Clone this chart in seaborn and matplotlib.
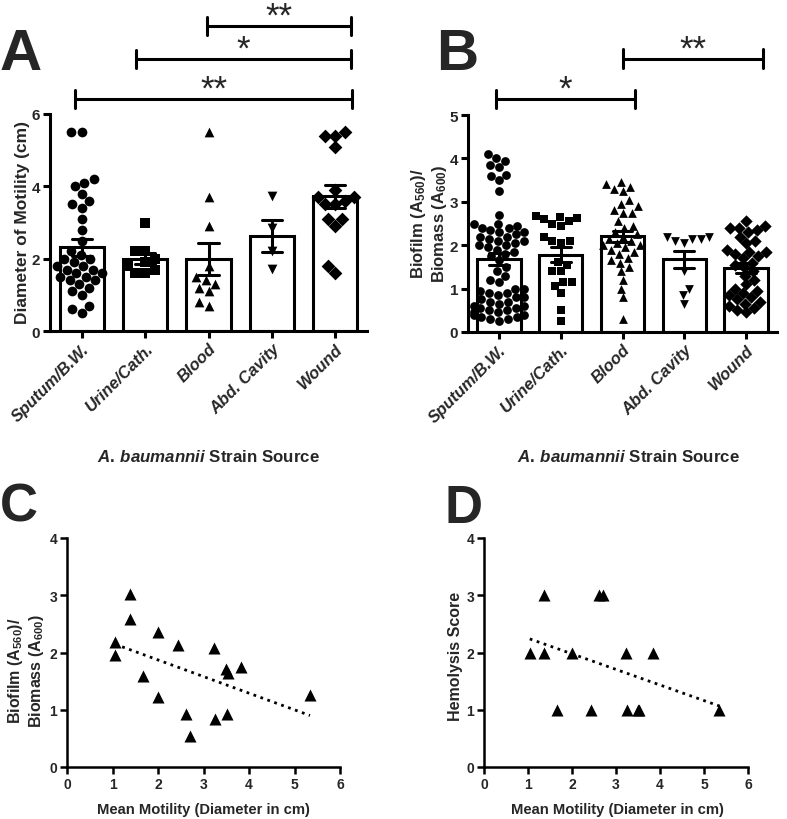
import matplotlib
matplotlib.use("Agg")
import matplotlib.pyplot as plt
import numpy as np
import pandas as pd
import seaborn as sns

# categories and markers
sources = ["Sputum/B.W.", "Urine/Cath.", "Blood", "Abd. Cavity", "Wound"]
source_markers = ["o", "s", "^", "v", "D"]

# panel A: diameter of motility (cm)
motility_sputum = [5.5, 5.5, 4.2, 4.1, 4.0, 3.8, 3.6, 3.5, 3.4, 3.1, 2.8, 2.5, 2.2, 2.1,
                   2.0, 2.0, 1.9, 1.8, 1.8, 1.7, 1.7, 1.6, 1.6, 1.5, 1.5, 1.4, 1.4, 1.3,
                   1.2, 1.1, 1.0, 0.7, 0.6, 0.5]
motility_urine = [3.0, 2.2, 2.2, 2.0, 1.9, 1.8, 1.7, 1.6, 1.6]
motility_blood = [5.5, 3.7, 2.9, 1.8, 1.5, 1.4, 1.3, 1.2, 1.1, 0.8, 0.7]
motility_abd = [3.72, 2.85, 2.2, 1.72]
motility_wound = [5.5, 5.4, 5.4, 5.1, 3.9, 3.7, 3.7, 3.6, 3.5, 3.5, 3.1, 3.1, 2.9, 1.8, 1.6]

# panel B: biofilm / biomass
biofilm_sputum = [4.1, 4.0, 3.95, 3.85, 3.8, 3.62, 3.6, 3.5, 3.25, 2.7,
                  2.5, 2.5, 2.45, 2.4, 2.4, 2.35, 2.3, 2.3, 2.25, 2.2, 2.2, 2.15, 2.1,
                  2.1, 2.05, 2.0, 2.0, 1.95, 1.9, 1.85, 1.8, 1.75,
                  1.65, 1.5, 1.4, 1.3, 1.2, 1.15,
                  1.0, 1.0, 0.95, 0.9, 0.9, 0.85, 0.8, 0.8, 0.75, 0.7, 0.7, 0.65, 0.6,
                  0.6, 0.55, 0.55, 0.5, 0.5, 0.45, 0.45, 0.4, 0.4, 0.35, 0.35, 0.3,
                  0.3, 0.25]
biofilm_urine = [2.68, 2.65, 2.62, 2.6, 2.55, 2.5, 2.45, 2.2, 2.1, 2.1, 2.05, 1.62,
                 1.55, 1.4, 1.4, 1.15, 1.15, 1.05, 0.9, 0.5, 0.25]
biofilm_blood = [3.45, 3.4, 3.35, 3.3, 3.25, 3.05, 2.95, 2.9, 2.8, 2.75, 2.75, 2.55,
                 2.45, 2.4, 2.3, 2.25, 2.2, 2.15, 2.1, 2.05, 2.0, 2.0, 1.95, 1.9,
                 1.85, 1.8, 1.7, 1.65, 1.6, 1.5, 1.4, 1.2, 1.0, 0.8, 0.3]
biofilm_abd = [2.2, 2.2, 2.15, 2.15, 2.1, 2.05, 1.4, 1.0, 0.85, 0.65]
biofilm_wound = [2.55, 2.45, 2.4, 2.4, 2.35, 2.3, 2.2, 2.1, 2.05, 1.9, 1.85, 1.85,
                 1.8, 1.75, 1.7, 1.6, 1.55, 1.5, 1.4, 1.3, 1.2, 1.1, 1.0, 0.95, 0.9,
                 0.85, 0.8, 0.75, 0.7, 0.65, 0.6, 0.55, 0.5, 0.45]

# panels C and D: per-strain means
motility_c = [1.06, 1.06, 1.38, 1.38, 1.68, 2.0, 2.0, 2.45, 2.62, 2.71, 3.22, 3.26,
              3.5, 3.53, 3.51, 3.82, 5.34]
biofilm_c = [2.18, 1.96, 3.03, 2.58, 1.59, 2.36, 1.23, 2.13, 0.93, 0.55, 2.07, 0.84,
             1.72, 1.64, 0.93, 1.74, 1.26]
motility_d = [1.04, 1.36, 1.36, 1.67, 1.99, 2.44, 2.61, 2.7, 3.22, 3.24, 3.49, 3.52,
              3.83, 5.35]
hemolysis_d = [2, 3, 2, 1, 2, 1, 3, 3, 2, 1, 1, 1, 2, 1]

# significance brackets: (start, end, height, label)
brackets_a = [(-0.1, 4.27, 6.42, "**"), (0.86, 4.24, 7.53, "*"), (1.97, 4.24, 8.44, "**")]
brackets_b = [(-0.05, 2.2, 5.37, "*"), (2.0, 4.27, 6.3, "**")]

sns.set_style("ticks")
plt.rcParams["font.family"] = ["Liberation Sans", "DejaVu Sans"]
plt.rcParams["font.weight"] = "bold"
plt.rcParams["mathtext.fontset"] = "custom"
plt.rcParams["mathtext.rm"] = "Liberation Sans:bold"
plt.rcParams["mathtext.it"] = "Liberation Sans:italic:bold"
plt.rcParams["mathtext.default"] = "regular"

W, H = 787, 820
fig = plt.figure(figsize=(W / 100, H / 100), dpi=100)


def px_axes(left, top, right, bottom):
    return fig.add_axes([left / W, 1 - bottom / H, (right - left) / W, (bottom - top) / H])


def style_axes(ax, lw, fs):
    sns.despine(ax=ax)
    for side in ["left", "bottom"]:
        ax.spines[side].set_linewidth(lw)
        ax.spines[side].set_color("black")
    ax.tick_params(width=lw, length=5, color="black", labelsize=fs, pad=2)
    for lab in ax.get_yticklabels() + ax.get_xticklabels():
        lab.set_fontweight("bold")
    ax.set_xlabel("")
    ax.set_ylabel("")


def bar_panel(ax, groups, ylim, yticks, msize):
    df = pd.DataFrame({
        "source": np.concatenate([[s] * len(g) for s, g in zip(sources, groups)]),
        "value": np.concatenate(groups),
    })
    sns.barplot(data=df, x="source", y="value", order=sources, errorbar="se",
                capsize=0.32, width=0.7, color="white", saturation=1,
                edgecolor="black", linewidth=2.2,
                err_kws={"color": "black", "linewidth": 2.2}, ax=ax)
    for s, g, m in zip(sources, groups, source_markers):
        sns.swarmplot(x=[s] * len(g), y=g, order=sources, marker=m, color="black",
                      size=msize, linewidth=0, warn_thresh=1, ax=ax)
    ax.set_ylim(*ylim)
    ax.set_yticks(yticks)
    ax.set_xlim(-0.5, 4.5)
    style_axes(ax, 2.2, 11)
    ax.set_xticks(range(len(sources)))
    ax.set_xticklabels(sources, rotation=45, ha="right", rotation_mode="anchor",
                       fontstyle="italic", fontweight="bold", fontsize=12)


def draw_brackets(ax, brackets, cap):
    for x0, x1, y, label in brackets:
        ax.plot([x0, x1], [y, y], color="black", lw=2.2, clip_on=False)
        for xe in (x0, x1):
            ax.plot([xe, xe], [y - cap, y + cap], color="black", lw=2.2, clip_on=False)
        ax.text((x0 + x1) / 2, y, label, ha="center", va="baseline",
                fontsize=25, fontweight="normal", clip_on=False)


# Panel A
ax_a = px_axes(50, 115, 367, 332)
bar_panel(ax_a, [motility_sputum, motility_urine, motility_blood, motility_abd, motility_wound],
          (0, 6), [0, 2, 4, 6], 7)
draw_brackets(ax_a, brackets_a, 0.25)
fig.text(23 / W, 1 - 223 / H, "Diameter of Motility (cm)", rotation=90,
         ha="center", va="center", fontsize=12.5, fontweight="bold")

# Panel B
ax_b = px_axes(468, 116, 777, 333)
bar_panel(ax_b, [biofilm_sputum, biofilm_urine, biofilm_blood, biofilm_abd, biofilm_wound],
          (0, 5), [0, 1, 2, 3, 4, 5], 6.3)
draw_brackets(ax_b, brackets_b, 0.21)
fig.text(429 / W, 1 - 224 / H, "Biofilm (A$_{560}$)/\nBiomass (A$_{600}$)", rotation=90,
         ha="center", va="center", fontsize=12, fontweight="bold", multialignment="center",
         linespacing=1.1)

for cx in (208, 628):
    fig.text(cx / W, 1 - 457 / H, r"$\mathit{A.\,baumannii}$ Strain Source",
             ha="center", va="center", fontsize=12.2, fontweight="bold")

# Panels C and D
ax_c = px_axes(67, 539, 340, 768)
ax_d = px_axes(484, 539, 748, 768)
for ax, xs, ys in [(ax_c, motility_c, biofilm_c), (ax_d, motility_d, hemolysis_d)]:
    sns.regplot(x=xs, y=ys, ci=None, marker="^", color="black",
                scatter_kws={"s": 75, "linewidths": 0, "alpha": 1},
                line_kws={"color": "black", "linestyle": ":", "linewidth": 2}, ax=ax)
    ax.set_xlim(0, 6)
    ax.set_ylim(0, 4)
    ax.set_xticks(range(0, 7))
    ax.set_yticks(range(0, 5))
    style_axes(ax, 1.8, 10)

for cx in (203, 617):
    fig.text(cx / W, 1 - 810 / H, "Mean Motility (Diameter in cm)", ha="center",
             va="center", fontsize=10.6, fontweight="bold")
fig.text(26 / W, 1 - 671 / H, "Biofilm (A$_{560}$)/\nBiomass (A$_{600}$)", rotation=90,
         ha="center", va="center", fontsize=11.5, fontweight="bold", multialignment="center",
         linespacing=1.1)
fig.text(455 / W, 1 - 656 / H, "Hemolysis Score", rotation=90,
         ha="center", va="center", fontsize=11.5, fontweight="bold")

# panel letters
fig.text(0 / W, 1 - 70 / H, "A", fontsize=42, fontweight="bold", va="baseline")
fig.text(436 / W, 1 - 70 / H, "B", fontsize=42, fontweight="bold", va="baseline")
fig.text(0 / W, 1 - 522 / H, "C", fontsize=38, fontweight="bold", va="baseline")
fig.text(445 / W, 1 - 523 / H, "D", fontsize=38, fontweight="bold", va="baseline")

fig.savefig("out.png", dpi=100, facecolor="white")
